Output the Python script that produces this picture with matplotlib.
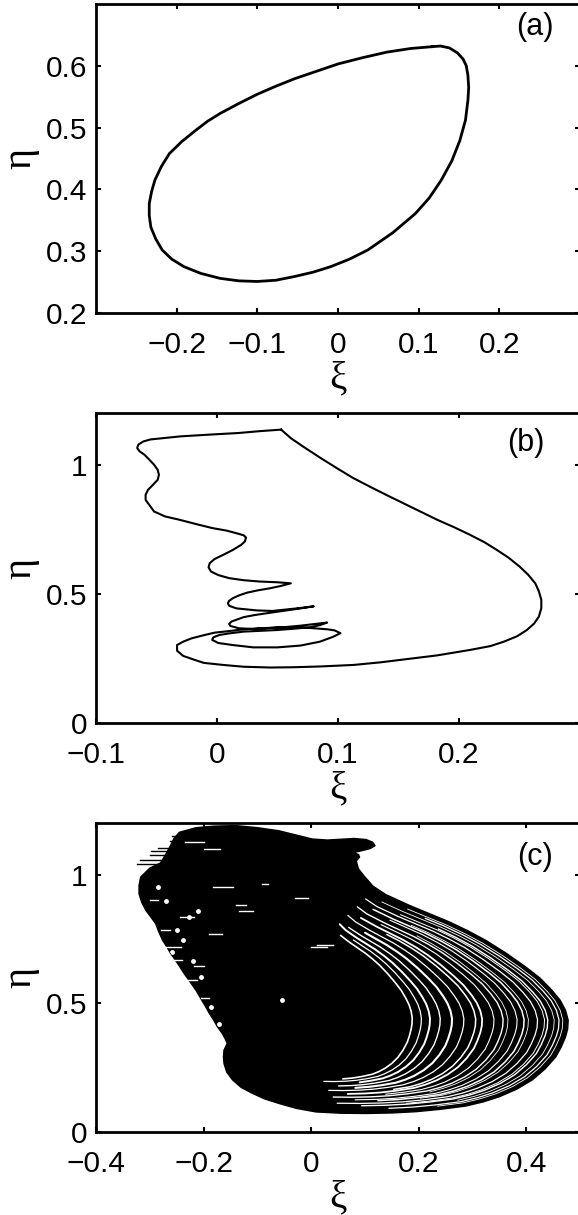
#!/usr/bin/env python3

# plot.py
#
# Phase portraits (a) limit cycle, (b) period-doubled orbit, (c) chaotic attractor
import matplotlib
matplotlib.use('Agg')
import matplotlib.pyplot as plt
from matplotlib.transforms import Affine2D

# Panel (a) - closed limit cycle
A_XI = [0.117, 0.127, 0.138, 0.148, 0.155, 0.159, 0.161, 0.162, 0.161, 0.158, 0.151,
        0.141, 0.128, 0.113, 0.096, 0.068, 0.037, 0.014, -0.009, -0.031, -0.054,
        -0.077, -0.100, -0.123, -0.146, -0.170, -0.191, -0.206, -0.218, -0.226, -0.232,
        -0.234, -0.234, -0.231, -0.227, -0.219, -0.209, -0.194, -0.177, -0.162, -0.146,
        -0.123, -0.100, -0.077, -0.054, -0.027, 0.000, 0.030, 0.060, 0.090, 0.117]
A_ETA = [0.631, 0.632, 0.629, 0.621, 0.611, 0.600, 0.585, 0.565, 0.544, 0.512, 0.479,
         0.446, 0.415, 0.386, 0.361, 0.330, 0.302, 0.287, 0.275, 0.266, 0.259,
         0.253, 0.251, 0.252, 0.256, 0.264, 0.275, 0.287, 0.302, 0.320, 0.339,
         0.358, 0.377, 0.397, 0.415, 0.437, 0.458, 0.477, 0.495, 0.510, 0.523,
         0.539, 0.554, 0.567, 0.579, 0.591, 0.603, 0.613, 0.622, 0.628, 0.631]

# Panel (b) - orbit with a cascade of small loops
B_XI = [0.053, 0.035, 0.018, -0.005, -0.030, -0.045, -0.055, -0.061, -0.065, -0.066,
        -0.064, -0.060, -0.056, -0.052, -0.049, -0.048, -0.049, -0.053, -0.057, -0.059,
        -0.059, -0.056, -0.052, -0.043, -0.031, -0.017, -0.004, 0.008, 0.016, 0.022,
        0.024, 0.023, 0.020, 0.013, 0.005, -0.002, -0.006, -0.007, -0.005, 0.001,
        0.010, 0.022, 0.035, 0.050, 0.061,
        0.052, 0.044, 0.034, 0.025, 0.018, 0.013, 0.010, 0.009, 0.010, 0.016,
        0.033, 0.046, 0.058, 0.070, 0.080,
        0.072, 0.063, 0.052, 0.041, 0.031, 0.022, 0.012, 0.010, 0.011, 0.018,
        0.030, 0.041, 0.055, 0.069, 0.082, 0.091,
        0.085, 0.077, 0.063, 0.049, 0.036, 0.022, 0.010, 0.002, -0.003, -0.004,
        0.001, 0.013, 0.030, 0.050, 0.069, 0.085, 0.096, 0.102,
        0.097, 0.091, 0.077, 0.063, 0.050, 0.036, 0.022, 0.008, -0.002, -0.011,
        -0.021, -0.028, -0.033, -0.033, -0.028, -0.020, -0.011, 0.005, 0.022, 0.044,
        0.063, 0.085, 0.113, 0.135, 0.154, 0.182, 0.209, 0.226, 0.237, 0.248,
        0.256, 0.262, 0.266, 0.268, 0.268, 0.266, 0.263, 0.257, 0.250, 0.241,
        0.231, 0.221, 0.209, 0.196, 0.182, 0.168, 0.154, 0.140, 0.126, 0.112,
        0.099, 0.085, 0.071, 0.061, 0.053]
B_ETA = [1.136, 1.130, 1.123, 1.117, 1.110, 1.103, 1.098, 1.090, 1.078, 1.065,
         1.052, 1.039, 1.020, 1.000, 0.980, 0.961, 0.942, 0.922, 0.903, 0.884,
         0.864, 0.845, 0.819, 0.800, 0.787, 0.770, 0.755, 0.745, 0.735, 0.727,
         0.718, 0.703, 0.690, 0.670, 0.651, 0.635, 0.619, 0.603, 0.587, 0.573,
         0.561, 0.553, 0.548, 0.545, 0.541,
         0.530, 0.522, 0.514, 0.505, 0.494, 0.483, 0.473, 0.464, 0.454, 0.444,
         0.436, 0.434, 0.440, 0.446, 0.452,
         0.446, 0.440, 0.433, 0.425, 0.418, 0.410, 0.393, 0.384, 0.376, 0.367,
         0.364, 0.367, 0.371, 0.377, 0.384, 0.389,
         0.379, 0.371, 0.365, 0.360, 0.357, 0.354, 0.347, 0.341, 0.332, 0.322,
         0.310, 0.302, 0.293, 0.293, 0.300, 0.315, 0.334, 0.348,
         0.359, 0.363, 0.368, 0.371, 0.370, 0.367, 0.363, 0.355, 0.350, 0.340,
         0.328, 0.315, 0.302, 0.280, 0.260, 0.247, 0.233, 0.225, 0.218, 0.215,
         0.216, 0.219, 0.225, 0.235, 0.246, 0.262, 0.283, 0.298, 0.315, 0.336,
         0.360, 0.385, 0.412, 0.445, 0.477, 0.510, 0.541, 0.575, 0.606, 0.640,
         0.671, 0.700, 0.729, 0.758, 0.787, 0.819, 0.851, 0.883, 0.916, 0.950,
         0.987, 1.028, 1.071, 1.103, 1.136]

# Panel (c) - outline of the dense attractor
C_XI = [-0.245, -0.214, -0.180, -0.140, -0.100, -0.060, -0.025, 0.002, 0.030, 0.055,
        0.080, 0.102, 0.114, 0.119, 0.110, 0.095, 0.078, 0.088, 0.090, 0.084,
        0.088, 0.099, 0.115, 0.139, 0.183, 0.220, 0.257, 0.292, 0.325, 0.363,
        0.399, 0.426, 0.448, 0.463, 0.473, 0.478, 0.477, 0.473, 0.465, 0.455,
        0.435, 0.411, 0.382, 0.350, 0.320, 0.288, 0.240, 0.195, 0.150, 0.102,
        0.055, 0.009, -0.028, -0.060, -0.087, -0.109, -0.130, -0.146, -0.157, -0.162,
        -0.163, -0.162, -0.156, -0.160, -0.165, -0.174, -0.181, -0.189, -0.196, -0.205,
        -0.214, -0.225, -0.236, -0.248, -0.261, -0.268, -0.276, -0.283, -0.289, -0.298,
        -0.307, -0.315, -0.320, -0.320, -0.317, -0.300, -0.280, -0.270, -0.262, -0.255]
C_ETA = [1.164, 1.182, 1.188, 1.190, 1.182, 1.170, 1.152, 1.138, 1.134, 1.137,
         1.140, 1.136, 1.126, 1.112, 1.101, 1.093, 1.085, 1.078, 1.068, 1.052,
         1.022, 0.993, 0.955, 0.922, 0.880, 0.848, 0.816, 0.781, 0.744, 0.694,
         0.641, 0.597, 0.550, 0.512, 0.473, 0.434, 0.400, 0.369, 0.330, 0.292,
         0.245, 0.202, 0.166, 0.137, 0.117, 0.101, 0.088, 0.079, 0.074, 0.072,
         0.073, 0.078, 0.092, 0.111, 0.129, 0.150, 0.173, 0.202, 0.233, 0.266,
         0.292, 0.318, 0.344, 0.363, 0.382, 0.408, 0.434, 0.460, 0.486, 0.518,
         0.550, 0.583, 0.615, 0.654, 0.693, 0.718, 0.744, 0.776, 0.809, 0.835,
         0.860, 0.892, 0.925, 0.958, 0.990, 1.025, 1.045, 1.080, 1.110, 1.140]

# stray trajectories sticking out on the upper left
SPIKE_XI0 = [-0.323, -0.318, -0.300, -0.298, -0.285, -0.262, -0.258]
SPIKE_XI1 = [-0.280, -0.275, -0.265, -0.262, -0.258, -0.240, -0.240]
SPIKE_ETA = [1.041, 1.058, 1.075, 1.093, 1.105, 1.132, 1.150]

# small white gaps inside the dense core
GAP_XI0 = [-0.183, -0.140, -0.092, -0.243, -0.280, -0.190, -0.270, -0.218, -0.230,
           0.000, -0.134, -0.030, 0.010, -0.235, -0.200, -0.300, -0.255, -0.205]
GAP_XI1 = [-0.146, -0.121, -0.080, -0.218, -0.262, -0.165, -0.242, -0.200, -0.212,
           0.030, -0.109, -0.005, 0.040, -0.200, -0.170, -0.285, -0.240, -0.190]
GAP_ETA = [0.951, 0.880, 0.963, 0.835, 0.783, 0.770, 0.720, 0.643, 0.590,
           0.720, 0.860, 0.910, 0.725, 1.125, 1.100, 0.900, 0.670, 0.520]

# small open loops just inside the ragged left edge
HOLE_XI = [-0.228, -0.250, -0.270, -0.285, -0.210, -0.238, -0.258, -0.220, -0.205,
           -0.214, -0.186, -0.172, -0.054]
HOLE_ETA = [0.834, 0.783, 0.899, 0.951, 0.860, 0.744, 0.700, 0.666, 0.602,
            0.524, 0.485, 0.421, 0.511]

# outer edge of the right-hand fan, and the nested gaps inside it
FAN_XI = [0.115, 0.139, 0.183, 0.220, 0.257, 0.292, 0.325, 0.363, 0.399, 0.426,
          0.448, 0.463, 0.473, 0.478, 0.477, 0.473, 0.465, 0.455, 0.435, 0.411,
          0.382, 0.350, 0.320, 0.288, 0.240, 0.195, 0.150, 0.102, 0.055]
FAN_ETA = [0.955, 0.922, 0.880, 0.848, 0.816, 0.781, 0.744, 0.694, 0.641, 0.597,
           0.550, 0.512, 0.473, 0.434, 0.400, 0.369, 0.330, 0.292, 0.245, 0.202,
           0.166, 0.137, 0.117, 0.101, 0.088, 0.079, 0.074, 0.072, 0.073]
STRIPE_TIP_XI = [0.468, 0.461, 0.452, 0.440, 0.434, 0.421, 0.404, 0.396, 0.383, 0.366,
                 0.357, 0.340, 0.318, 0.306, 0.284, 0.262, 0.240, 0.221, 0.205, 0.188]
STRIPE_LOW_ETA = [0.085, 0.090, 0.096, 0.102, 0.105, 0.111, 0.117, 0.120, 0.125, 0.131,
                  0.135, 0.141, 0.148, 0.153, 0.161, 0.170, 0.179, 0.188, 0.196, 0.205]
STRIPE_FIRST = [2, 3, 1, 4, 2, 0, 3, 1, 2, 4, 0, 2, 1, 3, 0, 2, 1, 0, 2, 1]
STRIPE_LAST = [24, 26, 23, 27, 25, 28, 24, 26, 27, 23, 28, 25, 27, 24, 28, 26, 27, 25, 28, 26]
STRIPE_LW = [0.6, 0.9, 0.6, 1.0, 0.7, 0.9, 0.6, 1.1, 0.8, 0.6,
             1.0, 0.8, 1.3, 1.1, 0.9, 1.5, 1.0, 1.4, 0.9, 1.2]

SANS = 'Liberation Sans'
SERIF = 'Liberation Serif'


def setup(ax, xlim, ylim, xticks, xlabels, yticks, ylabels, tag, tagpos):
    ax.set_xlim(xlim)
    ax.set_ylim(ylim)
    ax.set_xticks(xticks)
    ax.set_xticklabels(xlabels, fontfamily=SANS, fontsize=21.5)
    ax.set_yticks(yticks)
    ax.set_yticklabels(ylabels, fontfamily=SANS, fontsize=21.5)
    ax.tick_params(direction='in', top=True, right=True, length=3.5, width=1.5)
    ax.tick_params(axis='x', pad=13)
    ax.tick_params(axis='y', pad=6)
    for spine in ax.spines.values():
        spine.set_linewidth(2)

    ax.set_xlabel('ξ', fontfamily=SERIF, fontsize=28)
    ax.xaxis.set_label_coords(0.5, -0.152)
    ax.set_ylabel('η', fontfamily=SERIF, fontsize=29)
    ax.yaxis.set_label_coords(-0.118, 0.5)

    ax.text(tagpos[0], tagpos[1], tag, transform=ax.transAxes, ha='center', va='center',
            fontfamily=SANS, fontsize=22)


fig = plt.figure(figsize=(5.78, 12.15), dpi=100)
ax1 = fig.add_axes([0.1661, 0.7424, 0.8374, 0.2543])
ax2 = fig.add_axes([0.1661, 0.4049, 0.8374, 0.2551])
ax3 = fig.add_axes([0.1661, 0.0683, 0.8374, 0.2543])

# (a)
ax1.plot(A_XI, A_ETA, color='k', lw=2.0, solid_joinstyle='round')
setup(ax1, (-0.3, 0.3), (0.2, 0.7), [-0.2, -0.1, 0, 0.1, 0.2],
      ['\u22120.2', '\u22120.1', '0', '0.1', '0.2'],
      [0.2, 0.3, 0.4, 0.5, 0.6], ['0.2', '0.3', '0.4', '0.5', '0.6'],
      '(a)', (0.907, 0.925))

# (b)
ax2.plot(B_XI, B_ETA, color='k', lw=1.5, solid_joinstyle='round')
setup(ax2, (-0.1, 0.3), (0, 1.2), [-0.1, 0, 0.1, 0.2],
      ['\u22120.1', '0', '0.1', '0.2'],
      [0, 0.5, 1], ['0', '0.5', '1'],
      '(b)', (0.888, 0.903))

# (c)
body = ax3.fill(C_XI, C_ETA, color='k', lw=1.0)[0]
for x0, x1, y in zip(SPIKE_XI0, SPIKE_XI1, SPIKE_ETA):
    ax3.plot([x0, x1], [y, y], color='k', lw=1.0)
for x0, x1, y in zip(GAP_XI0, GAP_XI1, GAP_ETA):
    ax3.plot([x0, x1], [y, y], color='w', lw=1.0)
holes, = ax3.plot(HOLE_XI, HOLE_ETA, ls='none', marker='o', ms=3.5, mfc='w', mec='none')
holes.set_clip_path(body)

# the gaps in the fan follow the outer edge, shrunk toward the core
cx, cy = 0.0, 0.46
for tip, low, i0, i1, lw in zip(STRIPE_TIP_XI, STRIPE_LOW_ETA, STRIPE_FIRST,
                                STRIPE_LAST, STRIPE_LW):
    sx = (tip - cx) / (max(FAN_XI) - cx)
    sy = (cy - low) / (cy - min(FAN_ETA))
    shrink = Affine2D().translate(-cx, -cy).scale(sx, sy).translate(cx, cy)
    line, = ax3.plot(FAN_XI[i0:i1 + 1], FAN_ETA[i0:i1 + 1], color='w', lw=lw,
                     solid_capstyle='round', transform=shrink + ax3.transData)
    line.set_clip_path(body)

setup(ax3, (-0.4, 0.5), (0, 1.2), [-0.4, -0.2, 0, 0.2, 0.4],
      ['\u22120.4', '\u22120.2', '0', '0.2', '0.4'],
      [0, 0.5, 1], ['0', '0.5', '1'],
      '(c)', (0.907, 0.89))

plt.savefig('out.png', dpi=100, facecolor='white')
